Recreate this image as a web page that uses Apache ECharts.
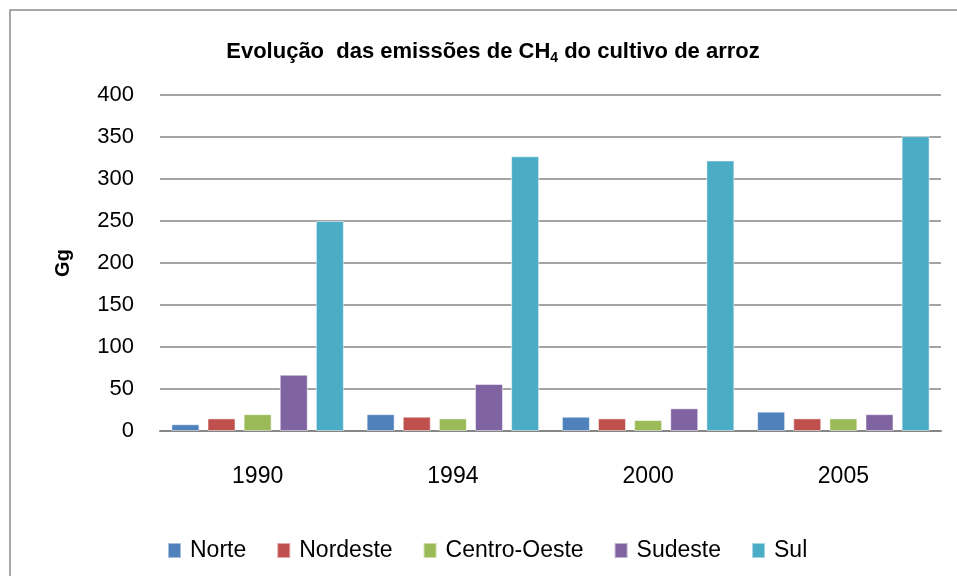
<!DOCTYPE html>
<html>
<head>
<meta charset="utf-8">
<script src="https://cdn.jsdelivr.net/npm/echarts@6/dist/echarts.min.js"></script>
<style>
  html, body { margin: 0; padding: 0; background: #fff; }
  #chart { width: 957px; height: 576px; }
</style>
</head>
<body>
<div id="chart"></div>
<script>
// anos e emissões (Gg) por região
const years = ["1990", "1994", "2000", "2005"];
const norte = [8, 20, 17, 23];
const nordeste = [15, 17, 15, 15];
const centroOeste = [20, 15, 13, 15];
const sudeste = [67, 56, 27, 20];
const sul = [250, 327, 322, 351];
const yTicks = [0, 50, 100, 150, 200, 250, 300, 350, 400];

const font = "'Liberation Sans', 'DejaVu Sans', sans-serif";
const colors = ["#4F81BD", "#C0504D", "#9BBB59", "#8064A2", "#4BACC6"];

const chart = echarts.init(document.getElementById("chart"));

const makeSeries = (name, data) => ({
    name,
    type: "bar",
    data,
    barWidth: 28,
    barGap: "29%",
    itemStyle: { borderColor: "rgba(255,255,255,0.5)", borderWidth: 1 },
});

chart.setOption({
    animation: false,
    color: colors,
    textStyle: { fontFamily: font },
    graphic: [{
        type: "rect",
        shape: { x: 10, y: 10, width: 1000, height: 1000 },
        style: { fill: "none", stroke: "#8a8a8a", lineWidth: 1.5 },
        silent: true,
    }],
    title: {
        text: "{a|Evolução  das emissões de CH}{s|4}{a| do cultivo de arroz}",
        left: 488,
        top: 34,
        textAlign: "center",
        textStyle: {
            rich: {
                a: { fontFamily: font, fontWeight: "bold", fontSize: 22, color: "#000" },
                s: { fontFamily: font, fontWeight: "bold", fontSize: 14, color: "#000", padding: [12, 0, 0, 0] },
            },
        },
    },
    legend: {
        left: 162,
        top: 534,
        itemWidth: 13,
        itemHeight: 15,
        itemGap: 30,
        icon: "rect",
        textStyle: { fontFamily: font, fontSize: 23, color: "#000", padding: [0, 0, 0, 4] },
        data: ["Norte", "Nordeste", "Centro-Oeste", "Sudeste", "Sul"],
    },
    grid: { left: 160, right: 16, top: 95, bottom: 145 },
    xAxis: {
        type: "category",
        data: years,
        axisLine: { lineStyle: { color: "#868686", width: 2 } },
        axisTick: { show: false },
        axisLabel: { margin: 34, fontSize: 23, color: "#000", fontFamily: font },
    },
    yAxis: {
        type: "value",
        min: yTicks[0],
        max: yTicks[yTicks.length - 1],
        interval: 50,
        name: "Gg",
        nameLocation: "middle",
        nameRotate: 90,
        nameGap: 87,
        nameTextStyle: { fontSize: 20, fontWeight: "bold", color: "#000", fontFamily: font },
        axisLine: { show: false },
        axisTick: { show: false },
        axisLabel: { margin: 26, fontSize: 22, color: "#000", fontFamily: font },
        splitLine: { lineStyle: { color: "#868686", width: 1.5 } },
    },
    series: [
        makeSeries("Norte", norte),
        makeSeries("Nordeste", nordeste),
        makeSeries("Centro-Oeste", centroOeste),
        makeSeries("Sudeste", sudeste),
        makeSeries("Sul", sul),
    ],
});
</script>
</body>
</html>
